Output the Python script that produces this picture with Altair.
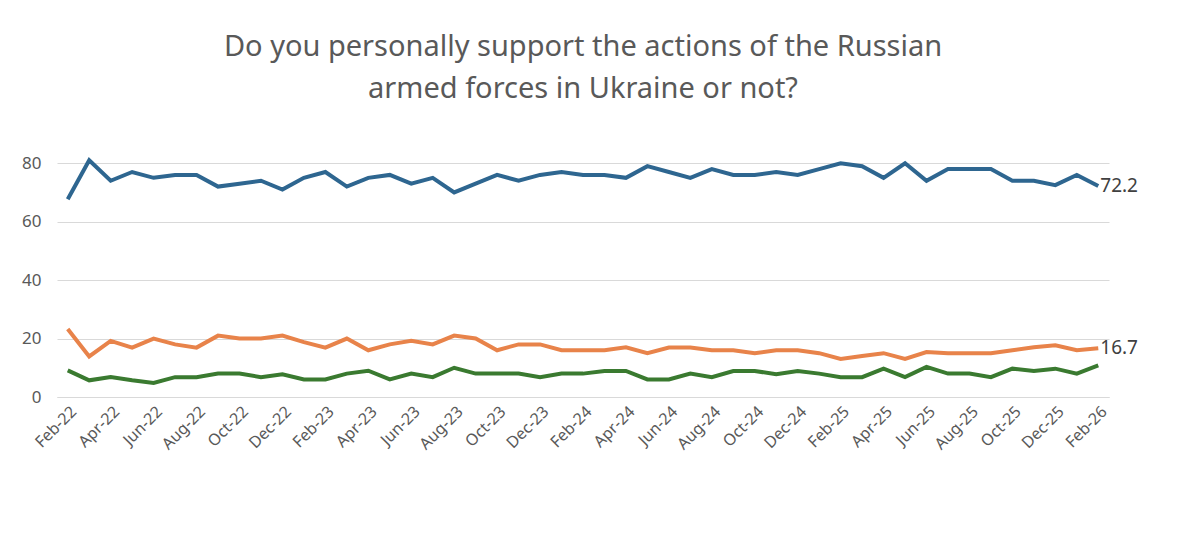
import altair as alt
import pandas as pd

# months Feb-22 .. Feb-26
months = []
for y in range(22, 27):
    for m in ["Jan", "Feb", "Mar", "Apr", "May", "Jun", "Jul", "Aug", "Sep", "Oct", "Nov", "Dec"]:
        months.append(f"{m}-{y}")
months = months[1:months.index("Feb-26") + 1]

support = [67.7, 81, 74, 77, 75, 76, 76, 72, 73, 74, 71, 75, 77, 72, 75, 76, 73, 75, 70, 73,
           76, 74, 76, 77, 76, 76, 75, 79, 77, 75, 78, 76, 76, 77, 76, 78, 80, 79, 75, 80,
           74, 78, 78, 78, 74, 74, 72.5, 76, 72.2]
not_support = [23.3, 13.9, 19.2, 16.9, 20, 18, 16.9, 21, 20, 20, 21, 18.8, 16.9, 20, 16, 18, 19.2, 18, 21, 20,
               16, 18, 18, 16, 16, 16, 17, 15, 16.9, 16.9, 16, 16, 15, 16, 16, 15, 13, 14, 15, 13,
               15.4, 15, 15, 15, 16, 17, 17.7, 16, 16.7]
difficult = [9.1, 5.7, 6.8, 5.7, 4.8, 6.8, 6.8, 8, 8, 6.8, 7.8, 6, 6, 8, 9, 6, 8, 6.8, 10, 8,
             8, 8, 6.8, 8, 8, 8.9, 8.9, 6, 6, 8, 6.8, 8.9, 8.9, 7.8, 8.9, 8, 6.8, 6.8, 9.7, 6.8,
             10.3, 8, 8, 6.8, 9.7, 8.9, 9.7, 8, 10.8]

series = ["Support", "Do not support", "Difficult to answer"]
colors = ["#2e6690", "#e8834a", "#3a7a30"]

rows = []
for name, vals in zip(series, [support, not_support, difficult]):
    for i, (mo, v) in enumerate(zip(months, vals)):
        rows.append({"month": mo, "idx": i, "series": name, "value": v})
df = pd.DataFrame(rows)

x = alt.X("month:O", sort=months, title=None,
          scale=alt.Scale(type="point", padding=0.5),
          axis=alt.Axis(values=months[::2], labelAngle=-45, labelAlign="right",
                        labelFontSize=16, labelColor="#595959", labelFont="Noto Sans",
                        labelOverlap=False,
                        ticks=False, domainColor="#d9d9d9", grid=False, labelPadding=6))
y = alt.Y("value:Q", title=None,
          scale=alt.Scale(domain=[0, 90], nice=False),
          axis=alt.Axis(values=list(range(0, 91, 10)), domain=False, ticks=False,
                        labelOverlap=False,
                        labelFontSize=17, labelColor="#595959", labelFont="Noto Sans",
                        gridColor="#d9d9d9", labelPadding=16))

lines = alt.Chart(df).mark_line(strokeWidth=4).encode(
    x=x, y=y,
    color=alt.Color("series:N", sort=series,
                    scale=alt.Scale(domain=series, range=colors),
                    legend=alt.Legend(title=None, orient="none", direction="horizontal",
                                      legendX=210, legendY=374, symbolType="stroke",
                                      symbolSize=2200, symbolStrokeWidth=4,
                                      labelFontSize=17, labelColor="#404040",
                                      labelFont="Noto Sans", columnPadding=30)),
)

ends = alt.Chart(df[(df["month"] == "Feb-26") & (df["series"] != "Difficult to answer")]).mark_text(
    align="left", dx=2, fontSize=19, color="#404040", font="Noto Sans"
).encode(x=alt.X("month:O", sort=months), y="value:Q", text=alt.Text("value:Q", format=".1f"))

chart = alt.layer(lines, ends).properties(
    width=1052, height=263,
    autosize=alt.AutoSizeParams(type="none"),
    padding={"left": 49, "top": 126, "right": 80, "bottom": 120},
    title=alt.Title(["Do you personally support the actions of the Russian",
                     "armed forces in Ukraine or not?"],
                    fontSize=29, fontWeight="normal", color="#595959", font="Noto Sans",
                    anchor="middle", offset=30, lineHeight=42),
).configure_view(stroke=None)

chart.save("out.html", embed_options={"renderer": "svg", "actions": False})
